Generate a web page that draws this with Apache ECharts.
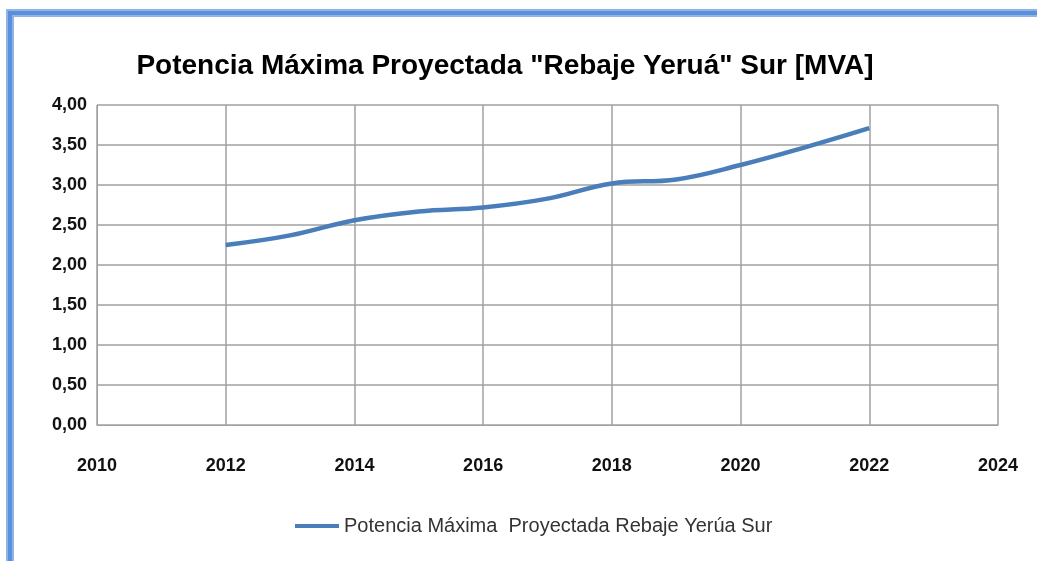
<!DOCTYPE html>
<html>
<head>
<meta charset="utf-8">
<script src="https://cdn.jsdelivr.net/npm/echarts@6/dist/echarts.min.js"></script>
<style>
  html, body { margin: 0; padding: 0; background: #fff; }
  #chart { width: 1037px; height: 561px; }
</style>
</head>
<body>
<div id="chart"></div>
<script>
// datos
const years = [2012, 2013, 2014, 2015, 2016, 2017, 2018, 2019, 2020, 2021, 2022];
const potencia = [2.25, 2.37, 2.56, 2.67, 2.72, 2.83, 3.02, 3.07, 3.25, 3.47, 3.71];
const seriesName = 'Potencia Máxima  Proyectada Rebaje Yerúa Sur';
const titleText = 'Potencia Máxima Proyectada "Rebaje Yeruá" Sur [MVA]';

const chart = echarts.init(document.getElementById('chart'));
const labelFont = "'Liberation Sans', sans-serif";

const option = {
  backgroundColor: '#fff',
  animation: false,
  title: {
    text: titleText,
    left: 500,
    top: 47,
    textAlign: 'center',
    textStyle: { fontFamily: labelFont, fontSize: 28, fontWeight: 'bold', color: '#000' }
  },
  legend: {
    bottom: 20,
    left: 290,
    itemWidth: 44,
    itemHeight: 4,
    itemGap: 6,
    icon: 'rect',
    textStyle: { fontFamily: labelFont, fontSize: 20, color: '#333' },
    data: [seriesName]
  },
  grid: { left: 97, right: 39, top: 105, bottom: 136 },
  xAxis: {
    type: 'value',
    min: 2010,
    max: 2024,
    interval: 2,
    axisLine: { show: true, lineStyle: { color: '#a0a0a0' } },
    axisTick: { show: false },
    axisLabel: {
      margin: 32,
      fontFamily: labelFont, fontSize: 18, fontWeight: 'bold', color: '#111',
      formatter: v => String(v)
    },
    splitLine: { show: true, lineStyle: { color: '#a0a0a0', width: 1.5 } }
  },
  yAxis: {
    type: 'value',
    min: 0,
    max: 4,
    interval: 0.5,
    axisLine: { show: true, lineStyle: { color: '#a0a0a0' } },
    axisTick: { show: false },
    axisLabel: {
      margin: 10,
      fontFamily: labelFont, fontSize: 18, fontWeight: 'bold', color: '#111',
      formatter: v => v.toFixed(2).replace('.', ',')
    },
    splitLine: { show: true, lineStyle: { color: '#a0a0a0', width: 1.5 } }
  },
  series: [{
    name: seriesName,
    type: 'line',
    smooth: 0.4,
    showSymbol: false,
    symbol: 'none',
    lineStyle: { color: '#4a7ebb', width: 4.5 },
    itemStyle: { color: '#4a7ebb' },
    data: years.map((y, i) => [y, potencia[i]])
  }],
  graphic: [
    // marco azul arriba e izquierda
    { type: 'rect', shape: { x: 6, y: 9, width: 1031, height: 8 }, style: { fill: '#8fb4e8' }, silent: true },
    { type: 'rect', shape: { x: 6, y: 9, width: 8, height: 552 }, style: { fill: '#8fb4e8' }, silent: true },
    { type: 'rect', shape: { x: 8, y: 11, width: 1029, height: 4 }, style: { fill: '#5a8fdc' }, silent: true },
    { type: 'rect', shape: { x: 8, y: 11, width: 4, height: 550 }, style: { fill: '#5a8fdc' }, silent: true }
  ]
};

chart.setOption(option);
</script>
</body>
</html>
